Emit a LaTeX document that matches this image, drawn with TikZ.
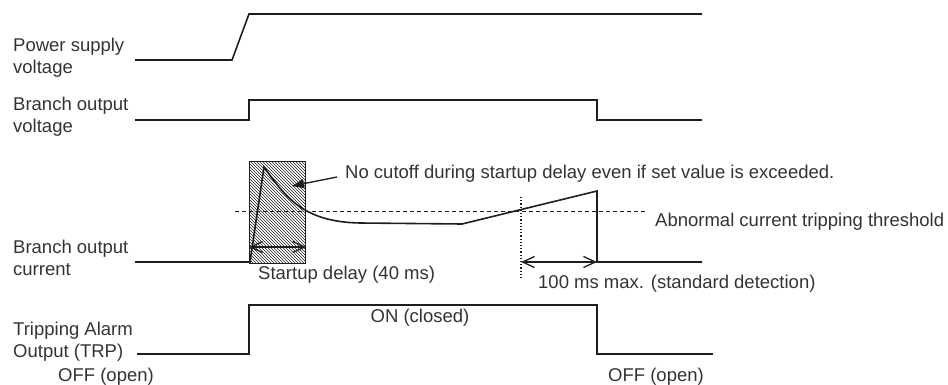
\documentclass[tikz,border=0pt]{standalone}
\usepackage{fontspec}
\setmainfont{Liberation Sans}
\usepackage{tikz}
\usetikzlibrary{arrows.meta,patterns}
\definecolor{txtgray}{HTML}{333333}
\definecolor{wavegray}{HTML}{1E1E1E}
\tikzstyle{label} = [text=txtgray, align=left, anchor=west, inner sep=0pt, font=\fontsize{18.5}{22}\selectfont]
\tikzstyle{txt} = [text=txtgray, inner sep=0pt, font=\fontsize{18.5}{22}\selectfont]
\tikzstyle{wave} = [draw=wavegray, line width=1.6pt]
\tikzstyle{threshold} = [draw=wavegray, dashed, line width=1pt, dash pattern=on 4pt off 3pt]
\tikzstyle{span} = [draw=wavegray, line width=1.3pt, {Straight Barb[length=12pt,width=11pt]}-{Straight Barb[length=12pt,width=11pt]}]

\begin{document}
\begin{tikzpicture}[x=1pt, y=-1pt]
    \useasboundingbox (0,0) rectangle (948,385);
    % Signal names
    \node [label] (psv) at (13,58) {Power supply\\voltage};
    \node [label] (bov) at (13,117) {Branch output\\voltage};
    \node [label] (boc) at (13,258) {Branch output\\current};
    \node [label] (trp) at (13,342) {Tripping Alarm\\Output (TRP)};

    % Startup delay window
    \node [draw=wavegray, line width=1.3pt, pattern=north west lines, pattern color=wavegray,
        minimum width=56pt, minimum height=102pt, inner sep=0pt, anchor=north west] (delay) at (249,161) {};

    % Power supply voltage
    \draw [wave] (135,60) -- (232,60) -- (249,14) -- (702,14);
    % Branch output voltage
    \draw [wave] (135,120) -- (249,120) -- (249,100) -- (597,100) -- (597,120) -- (702,120);
    % Branch output current
    \draw [wave] (135,262) -- (250,262) -- (264,167)
        .. controls (285,196) and (302,222) .. (360,223) -- (462,224) -- (597,191) -- (597,262) -- (702,262);
    \draw [threshold] (235,211) -- (647,211);
    \draw [draw=wavegray, dotted, line width=1.2pt] (521,197) -- (521,278);
    % Tripping alarm output
    \draw [wave] (137,354) -- (249,354) -- (249,305) -- (597,305) -- (597,354) -- (713,354);

    % Spans
    \draw [span] (delay.west |- 0,247) -- (delay.east |- 0,247);
    \coordinate (detect) at (521,262);
    \coordinate (trip) at (597,262);
    \draw [span] (detect) -- (trip);

    % Texts
    \node [txt, anchor=west] (note) at (345,174) {No cutoff during startup delay even if set value is exceeded.};
    \draw [draw=wavegray, line width=1.3pt, -{Triangle[length=12pt,width=9pt]}] (note.west) ++(-8,3) -- (292,186);
    \node [txt, anchor=west] (thr) at (655,222) {Abnormal current tripping threshold};
    \node [txt, anchor=west] (sdl) at (258,275) {Startup delay (40 ms)};
    \node [txt, anchor=west] (dmax) at (538,284) {100 ms max. (standard detection)};
    \node [txt] (on) at (420,318) {ON (closed)};
    \node [txt, anchor=west] (off1) at (58,377) {OFF (open)};
    \node [txt, anchor=west] (off2) at (608,377) {OFF (open)};
\end{tikzpicture}
\end{document}
